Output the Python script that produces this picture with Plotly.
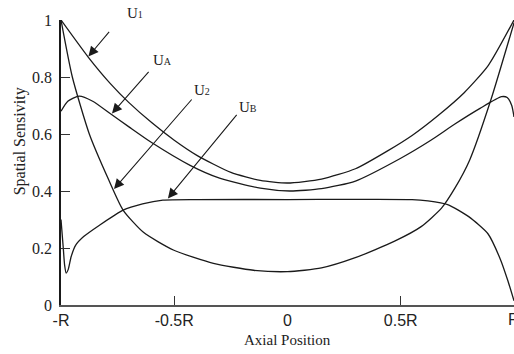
import plotly.graph_objects as go

# Axial positions (in units of R) and spatial sensitivity of each electrode pair
u1_x = [-1.0, -0.88, -0.78, -0.70, -0.60, -0.50, -0.40, -0.25, -0.12, 0.0,
        0.15, 0.30, 0.44, 0.55, 0.665, 0.78, 0.886, 1.0]
u1_y = [1.0, 0.87, 0.775, 0.71, 0.64, 0.578, 0.525, 0.465, 0.437, 0.428,
        0.442, 0.478, 0.54, 0.595, 0.665, 0.745, 0.84, 1.0]

ua_x = [-1.0, -0.97, -0.92, -0.86, -0.78, -0.70, -0.60, -0.43, -0.30, -0.12,
        0.01, 0.15, 0.30, 0.50, 0.633, 0.739, 0.85, 0.945, 0.97, 0.99, 1.0]
ua_y = [0.68, 0.715, 0.733, 0.715, 0.67, 0.625, 0.57, 0.49, 0.445, 0.41,
        0.40, 0.408, 0.435, 0.515, 0.578, 0.635, 0.69, 0.731, 0.728, 0.70, 0.66]

u2_x = [-1.0, -0.95, -0.875, -0.79, -0.726, -0.636, -0.504, -0.327, -0.15,
        0.0, 0.15, 0.296, 0.473, 0.59, 0.68, 0.739, 0.805, 0.898, 1.0]
u2_y = [1.0, 0.80, 0.60, 0.44, 0.333, 0.255, 0.193, 0.146, 0.122,
        0.117, 0.13, 0.165, 0.224, 0.275, 0.34, 0.41, 0.51, 0.72, 0.99]

ub_x = [-1.0, -0.99, -0.984, -0.977, -0.968, -0.955, -0.935, -0.90, -0.83,
        -0.726, -0.64, -0.55, -0.40, 0.0, 0.55, 0.62, 0.707, 0.80, 0.885,
        0.94, 0.973, 1.0]
ub_y = [0.30, 0.20, 0.14, 0.112, 0.125, 0.17, 0.21, 0.24, 0.28,
        0.333, 0.355, 0.368, 0.37, 0.37, 0.37, 0.365, 0.352, 0.31, 0.25,
        0.16, 0.085, 0.015]

x_tickvals = [-1.0, -0.5, 0.0, 0.5]
x_ticktext = ["-R", "-0.5R", "0", "0.5R"]
x_end_label = "R"
y_tickvals = [0, 0.2, 0.4, 0.6, 0.8, 1.0]
y_ticktext = ["0", "0.2", "0.4", "0.6", "0.8", "1"]

SERIF = "Liberation Serif, Times New Roman, serif"
SANS = "Liberation Sans, Arial, sans-serif"
INK = "#1a1a1a"
TEXT = "#222"

fig = go.Figure()
for xs, ys in [(u1_x, u1_y), (ua_x, ua_y), (u2_x, u2_y), (ub_x, ub_y)]:
    fig.add_trace(go.Scatter(
        x=xs, y=ys, mode="lines",
        line=dict(color=INK, width=1.3, shape="spline", smoothing=0.6),
        cliponaxis=False, showlegend=False, hoverinfo="skip",
    ))


def label(base, sub):
    return f"{base}<span style='font-size:10px'>{sub}</span>"


# (arrow tip x, tip y, tail offset px x, y, label paper x, paper y, base, subscript)
callouts = [
    (-0.879, 0.872, 22, -26, 0.163, 1.025, "U", "1"),
    (-0.775, 0.672, 38, -43, 0.223, 0.860, "U", "A"),
    (-0.766, 0.407, 79, -91, 0.311, 0.754, "U", "2"),
    (-0.528, 0.374, 70, -85, 0.413, 0.695, "U", "B"),
]
for hx, hy, ax, ay, tx, ty, base, sub in callouts:
    fig.add_annotation(
        x=hx, y=hy, ax=ax, ay=ay, axref="pixel", ayref="pixel",
        text="", showarrow=True, arrowhead=2, arrowsize=1.8,
        arrowwidth=1.1, arrowcolor=INK, standoff=0,
    )
    fig.add_annotation(
        x=tx, y=ty, xref="paper", yref="paper", text=label(base, sub),
        showarrow=False, font=dict(family=SERIF, size=15, color=TEXT),
        xanchor="center", yanchor="middle",
    )

# Tick label at the right end of the axis, running off the page edge
fig.add_annotation(
    x=1.0, y=-0.05, xref="paper", yref="paper", text=x_end_label,
    showarrow=False, font=dict(family=SANS, size=16, color=TEXT),
    xanchor="center", yanchor="middle",
)

# Axis titles
fig.add_annotation(
    x=0.50, y=-0.123, xref="paper", yref="paper", text="Axial Position",
    showarrow=False, font=dict(family=SERIF, size=15, color=TEXT),
    xanchor="center", yanchor="middle",
)
fig.add_annotation(
    x=-0.090, y=0.575, xref="paper", yref="paper", text="Spatial Sensivity",
    textangle=-90, showarrow=False, font=dict(family=SERIF, size=16, color=TEXT),
    xanchor="center", yanchor="middle",
)

fig.update_layout(
    width=514, height=354,
    margin=dict(l=61, r=0, t=20, b=49),
    paper_bgcolor="white", plot_bgcolor="white",
    xaxis=dict(
        range=[-1.0, 1.0], tickvals=x_tickvals, ticktext=x_ticktext,
        ticks="", showgrid=False, zeroline=False,
        showline=True, linecolor="#555", linewidth=2,
        tickfont=dict(family=SANS, size=16, color=TEXT),
        ticklabelstandoff=0,
        minor=dict(tickvals=[-0.5, 0.5], ticks="inside", ticklen=9,
                   tickcolor="#333", tickwidth=1.2),
    ),
    yaxis=dict(
        range=[0, 1.0], tickvals=y_tickvals, ticktext=y_ticktext,
        ticks="inside", ticklen=9, tickcolor="#333", tickwidth=1.2,
        showgrid=False, zeroline=False,
        showline=True, linecolor=INK, linewidth=1.5,
        tickfont=dict(family=SERIF, size=16, color=TEXT),
        ticklabelstandoff=4,
    ),
)

fig.write_html("out.html")
